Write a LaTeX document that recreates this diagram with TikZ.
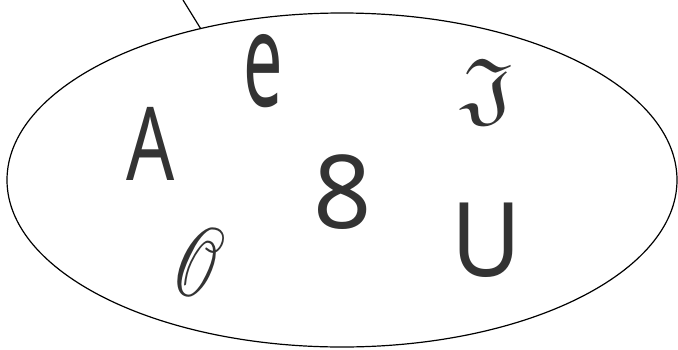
\documentclass[tikz,border=0pt]{standalone}
\usepackage{fontspec}
\usepackage{amssymb}
\usepackage{mathrsfs}
\usepackage{graphicx}
\setsansfont{Noto Sans}
\usetikzlibrary{shapes.geometric}
\definecolor{glyphgray}{HTML}{333333}
\tikzset{
  glyph/.style={inner sep=0pt, text=glyphgray, font=\sffamily},
}
\begin{document}
\begin{tikzpicture}[x=1pt, y=-1pt, line width=1.2pt]
    \useasboundingbox (0,0) rectangle (678,349);
    \node[ellipse, draw, minimum width=670pt, minimum height=334pt, inner sep=0pt] (set) at (342,180) {};
    \coordinate (top) at (183,0);
    \draw (top) -- (set.133);
    % letters in the set
    \node[glyph] (a) at (151,143.5) {\fontsize{102}{102}\selectfont\scalebox{0.74}[1]{A}};
    \node[glyph] (e) at (263.5,71.5) {\fontsize{132}{132}\selectfont\scalebox{0.53}[1]{e}};
    \node[glyph] (j) at (488,92) {\scalebox{9.5}[8.2]{$\mathfrak{J}$}};
    \node[glyph] (eight) at (343,192.5) {\fontsize{102}{102}\selectfont 8};
    \node[glyph] (o) at (199,263) {\scalebox{6.6}[9.7]{$\mathscr{O}$}};
    \node[glyph] (u) at (487,240) {\fontsize{103}{103}\selectfont\scalebox{0.93}[1]{U}};
\end{tikzpicture}
\end{document}
